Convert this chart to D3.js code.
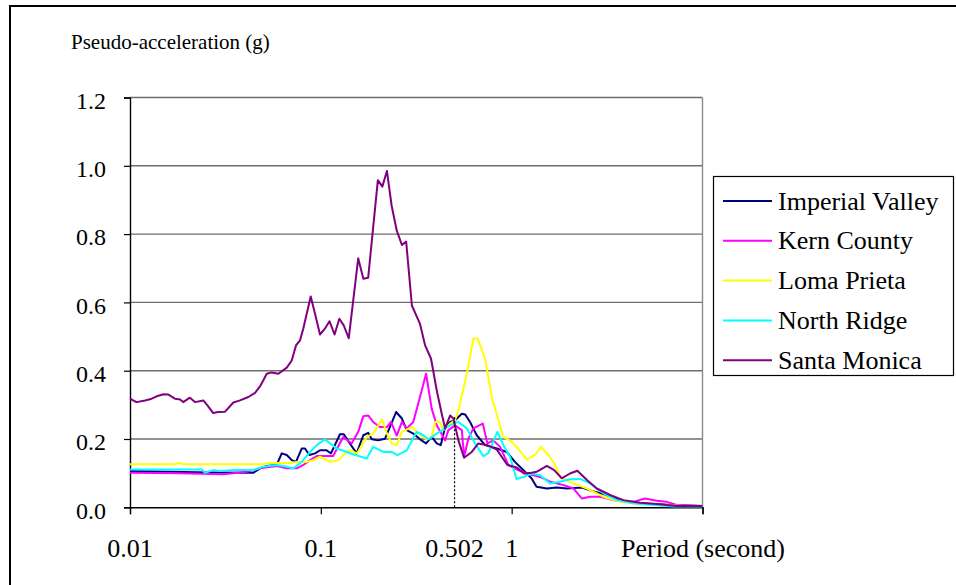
<!DOCTYPE html>
<html>
<head>
<meta charset="utf-8">
<script src="https://cdn.jsdelivr.net/npm/d3@7"></script>
<style>
  body { margin: 0; background: #fff; }
  svg text { fill: #000; }
</style>
</head>
<body>
<script>
// -------------------- DATA --------------------
var seriesNames = ["Imperial Valley", "Kern County", "Loma Prieta", "North Ridge", "Santa Monica"];
var seriesColors = ["#000080", "#ff00ff", "#ffff00", "#00ffff", "#800080"];

// period (s) / pseudo-acceleration (g)
var imperialT = [0.01, 0.0162, 0.0263, 0.0443, 0.048, 0.0521, 0.0587, 0.0624, 0.0663, 0.0704, 0.0741, 0.0794, 0.0826, 0.0871, 0.0933, 0.099, 0.107, 0.113, 0.126, 0.132, 0.142, 0.154, 0.167, 0.177, 0.185, 0.2, 0.217, 0.23, 0.248, 0.266, 0.282, 0.305, 0.331, 0.356, 0.381, 0.405, 0.425, 0.448, 0.476, 0.505, 0.548, 0.57, 0.605, 0.656, 0.726, 0.836, 0.943, 1.04, 1.15, 1.27, 1.35, 1.53, 1.72, 1.95, 2.33, 2.63, 3.15, 3.7, 4.34, 5.53, 7.33, 10];
var imperialA = [0.106, 0.104, 0.102, 0.101, 0.114, 0.121, 0.124, 0.158, 0.153, 0.138, 0.133, 0.172, 0.172, 0.153, 0.158, 0.167, 0.167, 0.158, 0.214, 0.214, 0.187, 0.158, 0.211, 0.218, 0.199, 0.196, 0.201, 0.235, 0.279, 0.26, 0.226, 0.216, 0.199, 0.187, 0.206, 0.187, 0.182, 0.235, 0.25, 0.255, 0.274, 0.272, 0.25, 0.211, 0.182, 0.172, 0.162, 0.133, 0.109, 0.085, 0.06, 0.055, 0.058, 0.055, 0.058, 0.048, 0.036, 0.021, 0.013, 0.01, 0.006, 0.004];

var kernT = [0.01, 0.0183, 0.0308, 0.0409, 0.048, 0.0587, 0.0663, 0.0748, 0.0809, 0.0878, 0.0952, 0.105, 0.116, 0.131, 0.145, 0.157, 0.167, 0.177, 0.188, 0.204, 0.222, 0.233, 0.25, 0.266, 0.282, 0.305, 0.324, 0.356, 0.381, 0.405, 0.448, 0.466, 0.505, 0.548, 0.563, 0.593, 0.63, 0.706, 0.746, 0.802, 0.869, 0.961, 1.08, 1.2, 1.41, 1.59, 1.87, 2.11, 2.33, 2.58, 2.91, 3.41, 4.34, 5.0, 5.76, 6.5, 7.33, 10];
var kernA = [0.101, 0.1, 0.097, 0.104, 0.114, 0.121, 0.114, 0.114, 0.124, 0.138, 0.15, 0.15, 0.15, 0.206, 0.187, 0.221, 0.267, 0.269, 0.25, 0.235, 0.235, 0.25, 0.21, 0.25, 0.231, 0.25, 0.304, 0.391, 0.289, 0.24, 0.196, 0.226, 0.24, 0.226, 0.148, 0.201, 0.231, 0.245, 0.187, 0.196, 0.177, 0.124, 0.109, 0.099, 0.089, 0.075, 0.065, 0.055, 0.026, 0.031, 0.031, 0.021, 0.016, 0.026, 0.019, 0.016, 0.007, 0.004];

var lomaT = [0.01, 0.0172, 0.0179, 0.0194, 0.05, 0.0531, 0.069, 0.0748, 0.0843, 0.0913, 0.099, 0.112, 0.124, 0.131, 0.142, 0.155, 0.174, 0.188, 0.209, 0.222, 0.235, 0.25, 0.266, 0.3, 0.324, 0.359, 0.381, 0.397, 0.421, 0.439, 0.476, 0.505, 0.526, 0.582, 0.63, 0.664, 0.726, 0.787, 0.852, 0.905, 0.989, 1.08, 1.2, 1.34, 1.42, 1.56, 1.69, 1.79, 2.11, 2.48, 3.02, 3.7, 4.71, 6.22, 7.94, 10];
var lomaA = [0.126, 0.126, 0.13, 0.126, 0.126, 0.13, 0.13, 0.133, 0.133, 0.138, 0.148, 0.133, 0.138, 0.153, 0.167, 0.158, 0.206, 0.216, 0.257, 0.216, 0.187, 0.182, 0.221, 0.235, 0.216, 0.199, 0.206, 0.25, 0.25, 0.226, 0.245, 0.255, 0.284, 0.391, 0.494, 0.494, 0.435, 0.323, 0.255, 0.206, 0.194, 0.172, 0.14, 0.156, 0.177, 0.153, 0.124, 0.089, 0.07, 0.055, 0.031, 0.016, 0.01, 0.007, 0.004, 0.004];

var northT = [0.01, 0.0238, 0.0247, 0.0273, 0.0296, 0.0348, 0.0443, 0.05, 0.0587, 0.0663, 0.0718, 0.0794, 0.0878, 0.0952, 0.105, 0.112, 0.121, 0.137, 0.151, 0.174, 0.188, 0.213, 0.235, 0.252, 0.282, 0.318, 0.344, 0.366, 0.405, 0.448, 0.495, 0.526, 0.582, 0.643, 0.711, 0.755, 0.842, 0.905, 0.981, 1.06, 1.16, 1.27, 1.41, 1.59, 1.79, 2.02, 2.28, 2.58, 3.02, 3.56, 4.34, 5.53, 7.04, 10];
var northA = [0.111, 0.111, 0.101, 0.109, 0.106, 0.109, 0.109, 0.119, 0.124, 0.119, 0.114, 0.133, 0.162, 0.182, 0.199, 0.187, 0.172, 0.162, 0.153, 0.143, 0.177, 0.162, 0.162, 0.153, 0.167, 0.221, 0.211, 0.199, 0.216, 0.231, 0.245, 0.25, 0.231, 0.187, 0.15, 0.159, 0.221, 0.182, 0.148, 0.083, 0.089, 0.099, 0.094, 0.07, 0.075, 0.082, 0.083, 0.07, 0.041, 0.021, 0.012, 0.007, 0.002, 0.002];

var santaT = [0.01, 0.0108, 0.012, 0.013, 0.0138, 0.015, 0.0159, 0.0172, 0.0183, 0.019, 0.0206, 0.0219, 0.0242, 0.0254, 0.0273, 0.029, 0.0315, 0.0348, 0.0377, 0.0417, 0.0452, 0.048, 0.0521, 0.0553, 0.0599, 0.0663, 0.0704, 0.0741, 0.0778, 0.0809, 0.0885, 0.0933, 0.099, 0.105, 0.111, 0.118, 0.125, 0.132, 0.14, 0.157, 0.167, 0.177, 0.199, 0.21, 0.222, 0.235, 0.25, 0.266, 0.28, 0.3, 0.331, 0.352, 0.378, 0.405, 0.43, 0.448, 0.476, 0.495, 0.526, 0.563, 0.618, 0.669, 0.746, 0.836, 0.95, 1.06, 1.16, 1.27, 1.35, 1.53, 1.67, 1.83, 2.02, 2.21, 2.48, 2.79, 3.28, 3.85, 4.71, 5.76, 7.33, 10];
var santaA = [0.318, 0.308, 0.313, 0.318, 0.325, 0.331, 0.33, 0.318, 0.316, 0.308, 0.321, 0.308, 0.313, 0.299, 0.276, 0.279, 0.28, 0.307, 0.313, 0.323, 0.335, 0.354, 0.391, 0.395, 0.391, 0.409, 0.43, 0.474, 0.489, 0.523, 0.617, 0.566, 0.506, 0.523, 0.545, 0.506, 0.552, 0.532, 0.495, 0.729, 0.669, 0.672, 0.958, 0.939, 0.985, 0.883, 0.81, 0.768, 0.778, 0.591, 0.537, 0.474, 0.435, 0.342, 0.274, 0.231, 0.269, 0.26, 0.196, 0.145, 0.162, 0.187, 0.182, 0.169, 0.124, 0.117, 0.099, 0.101, 0.104, 0.121, 0.109, 0.085, 0.099, 0.107, 0.08, 0.055, 0.036, 0.021, 0.013, 0.01, 0.004, 0.004];

var yTickValues = [0, 0.2, 0.4, 0.6, 0.8, 1.0, 1.2];
var xMajorTicks = [0.01, 0.1, 1, 10];
var xTickLabels = ["0.01", "0.1", "0.502", "1"];
var xTickValues = [0.01, 0.1, 0.502, 1];
var markerPeriod = 0.502;
var markerValue = 0.268;

var seriesT = [imperialT, kernT, lomaT, northT, santaT];
var seriesA = [imperialA, kernA, lomaA, northA, santaA];

// -------------------- DIMENSIONS --------------------
var w = 956, h = 585;
var plot = { left: 130, right: 702.5, top: 97.5, bottom: 507.3 };
var font = "'Liberation Serif', 'Liberation Sans', sans-serif";

var svg = d3.select("body")
  .append("svg")
  .attr("width", w)
  .attr("height", h)
  .style("display", "block")
  .style("font-family", font);

var x = d3.scaleLog()
  .domain([0.01, 10])
  .range([plot.left, plot.right]);

var y = d3.scaleLinear()
  .domain([0, 1.2])
  .range([plot.bottom, plot.top]);

// outer chart frame (right & bottom edges fall outside the picture)
svg.append("rect")
  .attr("x", 10).attr("y", 6)
  .attr("width", 990).attr("height", 620)
  .attr("fill", "none")
  .attr("stroke", "#000")
  .attr("stroke-width", 2);

// -------------------- GRID --------------------
svg.append("g")
  .selectAll("line")
  .data(yTickValues.filter(function(d){ return d > 0; }))
  .enter()
  .append("line")
  .attr("x1", plot.left).attr("x2", plot.right)
  .attr("y1", function(d){ return y(d); })
  .attr("y2", function(d){ return y(d); })
  .attr("stroke", "#6e6e6e")
  .attr("stroke-width", 1.4);

// right edge of plot area
svg.append("line")
  .attr("x1", plot.right).attr("x2", plot.right)
  .attr("y1", plot.top).attr("y2", plot.bottom)
  .attr("stroke", "#8a8a8a")
  .attr("stroke-width", 1.4);

// -------------------- AXES --------------------
var yAxis = d3.axisLeft(y)
  .tickValues(yTickValues)
  .tickSize(6)
  .tickPadding(18)
  .tickFormat(d3.format(".1f"));

var gy = svg.append("g")
  .attr("transform", "translate(" + plot.left + ",0)")
  .call(yAxis)
  .attr("font-family", font);
gy.select(".domain").attr("stroke", "#000").attr("stroke-width", 1.4);
gy.selectAll(".tick line").attr("stroke", "#000").attr("stroke-width", 1.2);
gy.selectAll(".tick text")
  .attr("font-size", "24px")
  .attr("dy", "0.45em");

var xAxis = d3.axisBottom(x)
  .tickValues(xMajorTicks)
  .tickSize(7)
  .tickFormat("");

var gx = svg.append("g")
  .attr("transform", "translate(0," + plot.bottom + ")")
  .call(xAxis);
gx.select(".domain").attr("stroke", "#000").attr("stroke-width", 1.4);
gx.selectAll(".tick line").attr("stroke", "#000").attr("stroke-width", 1.2);

// x tick labels (0.502 marks the dotted period line)
svg.append("g")
  .selectAll("text")
  .data(xTickValues)
  .enter()
  .append("text")
  .attr("x", function(d){ return x(d); })
  .attr("y", 557)
  .attr("text-anchor", "middle")
  .attr("font-size", "26px")
  .text(function(d, i){ return xTickLabels[i]; });

svg.append("text")
  .attr("x", 621)
  .attr("y", 557)
  .attr("font-size", "26px")
  .text("Period (second)");

svg.append("text")
  .attr("x", 71)
  .attr("y", 49)
  .attr("font-size", "21px")
  .text("Pseudo-acceleration (g)");

// -------------------- LINES --------------------
var line = d3.line()
  .x(function(d){ return x(d[0]); })
  .y(function(d){ return y(d[1]); });

seriesNames.forEach(function(name, i) {
  var pts = seriesT[i].map(function(t, j){ return [t, seriesA[i][j]]; });
  svg.append("path")
    .datum(pts)
    .attr("d", line)
    .attr("fill", "none")
    .attr("stroke", seriesColors[i])
    .attr("stroke-width", 2)
    .attr("stroke-linejoin", "round");
});

// dotted drop line at T = 0.502 s
svg.append("line")
  .attr("x1", x(markerPeriod)).attr("x2", x(markerPeriod))
  .attr("y1", y(0)).attr("y2", y(markerValue))
  .attr("stroke", "#000")
  .attr("stroke-width", 1.2)
  .attr("stroke-dasharray", "2,2");

// -------------------- LEGEND --------------------
var legend = svg.append("g");
legend.append("rect")
  .attr("x", 713.5).attr("y", 176.5)
  .attr("width", 240).attr("height", 199)
  .attr("fill", "#fff")
  .attr("stroke", "#000")
  .attr("stroke-width", 1.2);

var items = legend.selectAll("g.item")
  .data(seriesNames)
  .enter()
  .append("g")
  .attr("class", "item")
  .attr("transform", function(d, i){ return "translate(0," + (201 + i * 39.8) + ")"; });

items.append("line")
  .attr("x1", 723).attr("x2", 772)
  .attr("stroke", function(d, i){ return seriesColors[i]; })
  .attr("stroke-width", 2);

items.append("text")
  .attr("x", 778)
  .attr("dy", "0.33em")
  .attr("font-size", "26px")
  .text(function(d){ return d; });
</script>
</body>
</html>
